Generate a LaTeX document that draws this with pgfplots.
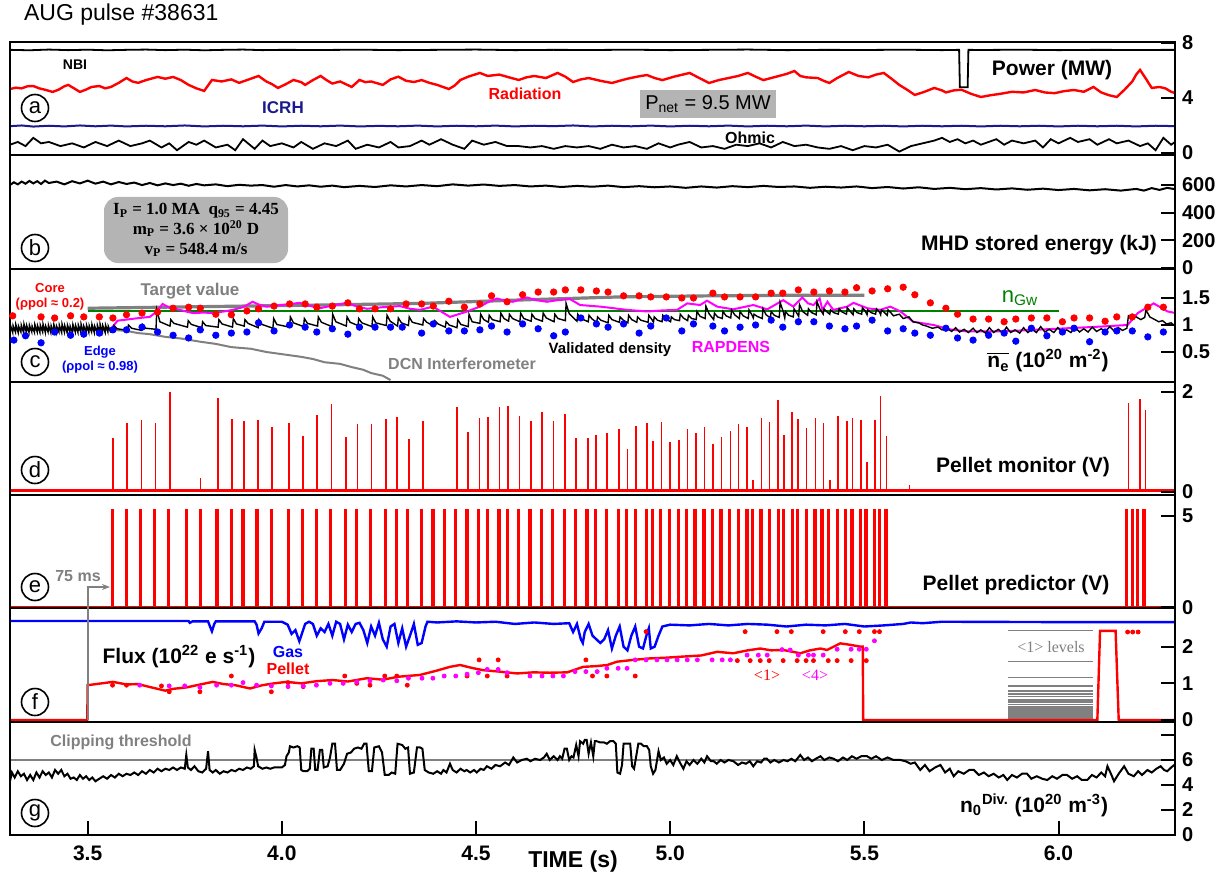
\documentclass[border=0pt]{standalone}
\usepackage{fontspec}
\setmainfont{Liberation Sans}
\newfontfamily\serif{Liberation Serif}
\usepackage{pgfplots}
\pgfplotsset{compat=1.18}
\usetikzlibrary{arrows.meta}
\definecolor{augred}{HTML}{FF0000}
\definecolor{augblue}{HTML}{0000FF}
\definecolor{icrh}{HTML}{1A1A8C}
\definecolor{augmag}{HTML}{FF00FF}
\definecolor{auggreen}{HTML}{008000}
\definecolor{auggrey}{HTML}{808080}
\definecolor{boxgrey}{HTML}{B4B4B4}
\newcommand\fs[1]{\fontsize{#1}{#1}\selectfont}

\pgfplotsset{
  panel/.style={scale only axis, width=582.5pt, height=56.64pt,
    xmin=3.3, xmax=6.3, xtick=\empty, anchor=south west,
    ytick pos=right, yticklabel pos=right, tick align=inside,
    major tick length=7pt, axis line style={line width=1pt},
    tick style={black, line width=1pt},
    yticklabel style={font=\fs{10}\bfseries}, axis on top},
}

\begin{document}
\begin{tikzpicture}
\path[use as bounding box] (0,0) rectangle (612pt,437.5pt);

% (a) power
\begin{axis}[panel, at={(5pt,359.85pt)}, ymin=-0.17, ymax=8.07,
  ytick={0,4,8}, yticklabels={0,4,8}]
\addplot[black, line width=0.9pt] coordinates {
 (3.30,7.50) (3.35,7.47) (3.40,7.52) (3.45,7.48) (3.50,7.51) (3.55,7.47) (3.60,7.50)
 (3.65,7.52) (3.70,7.48) (3.75,7.51) (3.80,7.47) (3.85,7.50) (3.90,7.52) (3.95,7.48)
 (4.00,7.50) (4.10,7.49) (4.20,7.51) (4.30,7.48) (4.40,7.50) (4.50,7.52) (4.60,7.48)
 (4.70,7.50) (4.80,7.49) (4.90,7.51) (5.00,7.48) (5.10,7.50) (5.20,7.52) (5.30,7.48)
 (5.40,7.50) (5.50,7.49) (5.60,7.51) (5.70,7.48) (5.744,7.50) (5.746,4.78) (5.766,4.78)
 (5.768,7.50) (5.80,7.49) (5.90,7.51) (6.00,7.48) (6.10,7.50) (6.20,7.49) (6.30,7.50)};
\addplot[augred, line width=1.2pt] coordinates {
 (3.300,4.65) (3.315,4.75) (3.330,4.70) (3.345,4.85) (3.360,4.87) (3.375,4.70) (3.390,4.60)
 (3.410,4.44) (3.425,4.60) (3.440,4.85) (3.450,4.95) (3.465,4.70) (3.480,4.44) (3.495,4.60)
 (3.510,4.80) (3.530,4.87) (3.545,4.70) (3.560,4.80) (3.580,5.10) (3.600,5.45) (3.615,5.20)
 (3.630,5.10) (3.650,5.30) (3.680,5.53) (3.700,5.40) (3.720,5.53) (3.740,5.30) (3.760,4.95)
 (3.780,4.70) (3.800,4.51) (3.820,5.31) (3.845,5.20) (3.870,5.35) (3.890,5.10) (3.905,5.25)
 (3.920,5.40) (3.940,5.60) (3.960,5.20) (3.975,5.00) (3.990,4.73) (4.010,5.00) (4.030,5.31)
 (4.050,5.15) (4.060,4.95) (4.080,5.30) (4.100,5.60) (4.115,5.30) (4.130,5.05) (4.150,5.20)
 (4.180,4.80) (4.200,5.31) (4.215,5.15) (4.230,5.20) (4.260,4.95) (4.280,5.35) (4.300,5.55)
 (4.320,5.25) (4.340,5.16) (4.360,5.30) (4.380,5.10) (4.400,4.95) (4.415,4.80) (4.430,4.65)
 (4.445,4.90) (4.460,5.31) (4.480,5.55) (4.510,5.82) (4.530,5.60) (4.560,5.70) (4.585,5.50)
 (4.610,5.31) (4.630,5.50) (4.650,5.60) (4.680,5.45) (4.710,5.82) (4.730,5.55) (4.750,5.16)
 (4.770,5.35) (4.790,5.45) (4.820,5.25) (4.850,5.09) (4.870,5.25) (4.890,5.40) (4.915,5.55)
 (4.940,5.67) (4.960,5.45) (4.980,5.30) (5.010,5.55) (5.050,5.82) (5.075,5.45) (5.100,5.09)
 (5.125,5.30) (5.150,5.45) (5.175,5.60) (5.200,5.82) (5.220,5.55) (5.240,5.30) (5.260,5.45)
 (5.280,5.60) (5.300,5.75) (5.320,5.96) (5.335,5.60) (5.350,5.50) (5.380,5.45) (5.395,5.25)
 (5.410,5.09) (5.430,5.45) (5.460,5.89) (5.485,5.60) (5.510,5.50) (5.530,5.70) (5.550,5.82)
 (5.570,5.40) (5.590,4.95) (5.610,4.60) (5.630,4.22) (5.655,4.45) (5.680,4.73) (5.700,4.55)
 (5.710,4.40) (5.730,4.55) (5.750,4.60) (5.775,4.30) (5.800,4.07) (5.825,4.20) (5.850,4.30)
 (5.880,4.45) (5.910,4.40) (5.940,4.58) (5.965,4.40) (5.990,4.35) (6.015,4.50) (6.040,4.58)
 (6.065,4.45) (6.090,4.80) (6.110,4.40) (6.130,4.20) (6.150,4.07) (6.170,4.60) (6.190,5.20)
 (6.200,5.70) (6.210,6.04) (6.225,5.40) (6.240,4.73) (6.260,4.80) (6.275,4.70) (6.290,4.45)
 (6.300,4.36)};
\addplot[icrh, line width=1pt] coordinates {
 (3.30,1.95) (3.33,2.00) (3.36,1.92) (3.40,1.98) (3.44,1.93) (3.48,2.00) (3.52,1.94)
 (3.56,1.99) (3.60,1.93) (3.65,1.98) (3.70,1.94) (3.75,2.00) (3.80,1.93) (3.85,1.98)
 (3.90,1.94) (3.95,1.99) (4.00,1.93) (4.05,1.98) (4.10,1.94) (4.15,1.99) (4.20,1.93)
 (4.25,1.97) (4.30,1.94) (4.35,1.99) (4.40,1.93) (4.45,1.98) (4.50,1.94) (4.55,1.99)
 (4.60,1.93) (4.65,1.98) (4.70,1.95) (4.75,2.00) (4.80,1.93) (4.85,1.98) (4.90,1.94)
 (4.95,1.99) (5.00,1.93) (5.05,1.98) (5.10,1.94) (5.15,1.99) (5.20,1.93) (5.25,1.98)
 (5.30,1.94) (5.35,1.99) (5.40,1.93) (5.45,1.98) (5.50,1.94) (5.55,1.98) (5.60,1.93)
 (5.65,1.98) (5.70,1.94) (5.75,1.98) (5.80,1.93) (5.85,1.98) (5.90,1.94) (5.95,1.98)
 (6.00,1.93) (6.05,1.98) (6.10,1.94) (6.15,1.98) (6.20,1.93) (6.25,1.98) (6.30,1.95)};
\addplot[black, line width=0.9pt] coordinates {
 (3.30,0.6) (3.32,0.8) (3.34,0.5) (3.36,1.1) (3.38,0.7) (3.40,0.8) (3.43,0.5) (3.46,0.7)
 (3.49,0.4) (3.52,0.8) (3.55,0.5) (3.58,0.9) (3.61,0.5) (3.64,0.7) (3.66,0.9) (3.69,0.4)
 (3.71,0.7) (3.73,0.2) (3.76,0.8) (3.78,0.6) (3.80,0.9) (3.83,0.4) (3.86,0.6) (3.88,0.2)
 (3.90,1.0) (3.93,0.3) (3.95,0.9) (3.97,0.5) (4.00,0.7) (4.03,0.4) (4.05,0.8) (4.08,0.3)
 (4.11,0.7) (4.14,0.5) (4.17,0.9) (4.19,0.3) (4.22,0.6) (4.25,0.4) (4.28,0.8) (4.30,0.4)
 (4.33,0.5) (4.36,0.9) (4.38,0.6) (4.41,1.0) (4.44,0.6) (4.47,0.3) (4.49,0.9) (4.52,0.6)
 (4.55,0.8) (4.58,0.5) (4.61,0.5) (4.64,0.4) (4.67,0.5) (4.70,0.3) (4.73,0.5) (4.76,0.4)
 (4.79,0.5) (4.82,0.3) (4.85,0.6) (4.88,0.4) (4.91,0.5) (4.94,0.3) (4.97,0.7) (5.00,0.4)
 (5.02,0.6) (5.05,0.8) (5.08,0.4) (5.11,0.5) (5.14,0.3) (5.17,0.6) (5.20,0.5) (5.23,0.7)
 (5.26,0.4) (5.29,0.8) (5.32,0.5) (5.35,0.6) (5.38,0.4) (5.41,0.3) (5.44,0.5) (5.47,0.2)
 (5.50,0.5) (5.53,0.4) (5.56,0.6) (5.59,0.1) (5.62,0.5) (5.65,0.7) (5.68,0.9) (5.70,1.1)
 (5.72,0.8) (5.74,1.0) (5.76,0.7) (5.78,0.9) (5.80,0.6) (5.82,0.8) (5.84,1.0) (5.86,0.6)
 (5.88,0.9) (5.91,0.7) (5.94,0.9) (5.96,0.4) (5.98,1.0) (6.00,0.7) (6.03,1.1) (6.05,0.8)
 (6.08,1.0) (6.10,0.6) (6.13,1.0) (6.15,0.7) (6.18,0.9) (6.21,0.5) (6.23,0.7) (6.25,0.2)
 (6.27,1.1) (6.29,0.6) (6.30,0.8)};
\end{axis}

% (b) stored energy
\begin{axis}[panel, at={(5pt,303.2pt)}, ymin=-4, ymax=815,
  ytick={0,200,400,600}, yticklabels={0,200,400,600}]
\addplot[black, line width=1pt] coordinates {
 (3.30,600) (3.31,620) (3.32,605) (3.33,625) (3.34,610) (3.35,630) (3.36,612) (3.37,628)
 (3.38,608) (3.39,632) (3.40,615) (3.42,625) (3.44,605) (3.46,628) (3.48,612) (3.50,632)
 (3.52,610) (3.54,625) (3.56,605) (3.58,622) (3.60,608) (3.62,618) (3.64,600) (3.66,615)
 (3.68,598) (3.70,612) (3.72,600) (3.74,610) (3.76,595) (3.78,608) (3.80,598) (3.83,605)
 (3.86,592) (3.89,602) (3.92,596) (3.95,600) (3.98,588) (4.01,600) (4.04,590) (4.07,598)
 (4.10,588) (4.13,596) (4.16,585) (4.20,594) (4.24,586) (4.28,598) (4.32,590) (4.36,600)
 (4.40,592) (4.44,605) (4.48,596) (4.52,604) (4.56,594) (4.60,600) (4.64,590) (4.68,596)
 (4.72,586) (4.76,594) (4.80,588) (4.84,596) (4.88,585) (4.92,592) (4.96,584) (5.00,590)
 (5.04,580) (5.08,590) (5.12,582) (5.16,592) (5.20,585) (5.24,594) (5.28,586) (5.32,590)
 (5.36,580) (5.40,588) (5.44,582) (5.48,590) (5.52,578) (5.56,586) (5.60,575) (5.64,584)
 (5.68,572) (5.72,580) (5.76,570) (5.80,578) (5.84,568) (5.88,576) (5.92,566) (5.96,574)
 (6.00,564) (6.04,572) (6.08,562) (6.12,570) (6.16,560) (6.20,572) (6.22,560) (6.24,578)
 (6.26,565) (6.28,580) (6.30,570)};
\end{axis}

% (c) density
\begin{axis}[panel, at={(5pt,246.55pt)}, ymin=-0.054, ymax=2.044,
  ytick={0.5,1,1.5}, yticklabels={0.5,1,1.5}]
\addplot[auggrey, line width=1.6pt] coordinates {
 (3.5,1.31) (3.8,1.34) (4.1,1.37) (4.36,1.40) (4.6,1.46) (4.87,1.52) (5.1,1.54) (5.3,1.55) (5.5,1.55)};
\addplot[auggreen, line width=1pt] coordinates {(3.5,1.26) (6.0,1.26)};
\addplot[auggrey, line width=1pt] coordinates {
 (3.30,0.90) (3.40,0.91) (3.50,0.91) (3.565,0.91) (3.60,0.89) (3.63,0.85) (3.66,0.83)
 (3.70,0.78) (3.74,0.75) (3.79,0.69) (3.83,0.65) (3.87,0.59) (3.92,0.56) (3.96,0.50)
 (4.00,0.46) (4.05,0.41) (4.08,0.37) (4.11,0.31) (4.15,0.28) (4.18,0.22) (4.21,0.17)
 (4.23,0.11) (4.26,0.06) (4.28,-0.02)};
\addplot[augmag, line width=1pt] coordinates {
 (3.30,0.92) (3.40,0.93) (3.50,0.92) (3.56,0.93) (3.577,1.08) (3.60,1.10) (3.634,1.13)
 (3.66,1.15) (3.678,1.25) (3.693,1.39) (3.71,1.32) (3.737,1.28) (3.771,1.22) (3.80,1.23)
 (3.822,1.22) (3.85,1.25) (3.874,1.28) (3.90,1.33) (3.925,1.43) (3.94,1.38) (3.961,1.34)
 (4.00,1.37) (4.046,1.41) (4.07,1.36) (4.098,1.31) (4.13,1.36) (4.168,1.41) (4.19,1.35)
 (4.219,1.30) (4.26,1.33) (4.304,1.35) (4.33,1.30) (4.356,1.28) (4.389,1.34) (4.41,1.25)
 (4.433,1.15) (4.455,1.20) (4.477,1.25) (4.510,1.34) (4.530,1.42) (4.554,1.49) (4.575,1.45)
 (4.595,1.43) (4.631,1.51) (4.655,1.46) (4.683,1.43) (4.710,1.46) (4.742,1.48) (4.768,1.37)
 (4.820,1.34) (4.855,1.31) (4.889,1.28) (4.941,1.25) (4.980,1.27) (5.018,1.28) (5.044,1.40)
 (5.077,1.37) (5.095,1.45) (5.121,1.34) (5.162,1.29) (5.214,1.37) (5.250,1.29) (5.291,1.46)
 (5.317,1.34) (5.340,1.51) (5.355,1.40) (5.369,1.37) (5.385,1.49) (5.392,1.28) (5.405,1.43)
 (5.420,1.28) (5.456,1.34) (5.472,1.41) (5.508,1.31) (5.541,1.28) (5.567,1.34) (5.593,1.25)
 (5.626,1.06) (5.678,1.00) (5.720,0.92) (5.765,0.88) (5.851,0.88) (5.936,0.91) (6.023,0.94)
 (6.108,0.97) (6.178,1.00) (6.204,1.22) (6.245,1.40) (6.281,1.25) (6.302,1.22)};
\addplot[black, line width=0.7pt] coordinates {
 (3.300,0.87) (3.301,1.00) (3.307,0.86) (3.308,0.99) (3.314,0.87) (3.315,1.01) (3.321,0.86)
 (3.322,0.98) (3.328,0.87) (3.329,1.00) (3.335,0.86) (3.336,1.02) (3.342,0.87) (3.343,0.99)
 (3.349,0.86) (3.350,1.00) (3.356,0.87) (3.357,0.98) (3.363,0.86) (3.364,1.01) (3.370,0.87)
 (3.371,0.99) (3.377,0.86) (3.378,1.00) (3.384,0.87) (3.385,1.02) (3.391,0.86) (3.392,0.98)
 (3.398,0.87) (3.399,1.00) (3.405,0.86) (3.406,0.99) (3.412,0.87) (3.413,1.01) (3.419,0.86)
 (3.420,0.98) (3.426,0.87) (3.427,1.00) (3.433,0.86) (3.434,1.02) (3.440,0.87) (3.441,0.99)
 (3.447,0.86) (3.448,1.00) (3.454,0.87) (3.455,0.98) (3.461,0.86) (3.462,1.01) (3.468,0.87)
 (3.469,0.99) (3.475,0.86) (3.476,1.00) (3.482,0.87) (3.483,1.02) (3.489,0.86) (3.490,0.98)
 (3.496,0.87) (3.497,1.00) (3.503,0.86) (3.504,0.99) (3.510,0.87) (3.511,1.01) (3.517,0.86)
 (3.518,0.98) (3.524,0.87) (3.525,1.00) (3.531,0.86) (3.532,1.02) (3.538,0.87) (3.539,0.99)
 (3.545,0.86) (3.546,1.00) (3.552,0.87) (3.553,0.98) (3.559,0.87)
 (3.566,0.89) (3.568,0.99) (3.576,0.93) (3.603,0.90) (3.605,1.00) (3.613,0.94)
 (3.639,0.90) (3.641,1.01) (3.649,0.94) (3.676,0.92) (3.678,1.28) (3.686,1.06)
 (3.712,0.98) (3.714,1.10) (3.722,1.03) (3.757,0.96) (3.759,1.08) (3.767,1.01)
 (3.794,0.95) (3.796,1.06) (3.804,0.99) (3.836,0.96) (3.838,1.10) (3.846,1.02)
 (3.873,0.96) (3.875,1.12) (3.883,1.02) (3.903,0.98) (3.905,1.10) (3.913,1.03)
 (3.939,0.95) (3.941,1.10) (3.949,1.01) (3.977,0.94) (3.979,1.12) (3.987,1.01)
 (4.020,0.96) (4.022,1.15) (4.030,1.04) (4.056,0.97) (4.058,1.12) (4.066,1.03)
 (4.092,0.98) (4.094,1.15) (4.102,1.05) (4.129,0.97) (4.131,1.20) (4.139,1.06)
 (4.166,0.98) (4.168,1.15) (4.176,1.05) (4.196,0.99) (4.198,1.12) (4.206,1.04)
 (4.232,0.97) (4.234,1.15) (4.242,1.04) (4.269,0.99) (4.271,1.18) (4.279,1.07)
 (4.298,0.98) (4.300,1.13) (4.308,1.04) (4.326,0.99) (4.328,1.15) (4.336,1.05)
 (4.363,1.00) (4.365,1.12) (4.373,1.05) (4.392,0.98) (4.394,1.08) (4.402,1.02)
 (4.421,0.96) (4.423,1.06) (4.431,1.00) (4.451,0.95) (4.453,1.10) (4.461,1.01)
 (4.480,0.97) (4.482,1.20) (4.490,1.06) (4.510,1.03) (4.512,1.20) (4.520,1.10)
 (4.532,1.05) (4.534,1.18) (4.542,1.10) (4.562,1.06) (4.564,1.22) (4.572,1.12)
 (4.584,1.07) (4.586,1.20) (4.594,1.12) (4.613,1.06) (4.615,1.22) (4.623,1.12)
 (4.642,1.07) (4.644,1.20) (4.652,1.12) (4.671,1.07) (4.673,1.22) (4.681,1.13)
 (4.701,1.06) (4.703,1.20) (4.711,1.12) (4.730,1.08) (4.732,1.40) (4.740,1.21)
 (4.760,1.07) (4.762,1.20) (4.770,1.12) (4.789,1.06) (4.791,1.18) (4.799,1.11)
 (4.811,1.05) (4.813,1.15) (4.821,1.09) (4.840,1.04) (4.842,1.18) (4.850,1.10)
 (4.869,1.05) (4.871,1.15) (4.879,1.09) (4.891,1.04) (4.893,1.18) (4.901,1.10)
 (4.914,1.05) (4.916,1.15) (4.924,1.09) (4.943,1.05) (4.945,1.18) (4.953,1.10)
 (4.957,1.05) (4.959,1.15) (4.967,1.09) (4.979,1.06) (4.981,1.18) (4.989,1.11)
 (5.001,1.06) (5.003,1.15) (5.011,1.10) (5.024,1.08) (5.026,1.20) (5.034,1.13)
 (5.045,1.08) (5.047,1.18) (5.055,1.12) (5.067,1.10) (5.069,1.25) (5.077,1.16)
 (5.090,1.12) (5.092,1.35) (5.100,1.21) (5.112,1.10) (5.114,1.22) (5.122,1.15)
 (5.134,1.12) (5.136,1.25) (5.144,1.17) (5.156,1.13) (5.158,1.28) (5.166,1.19)
 (5.178,1.12) (5.180,1.25) (5.188,1.17) (5.201,1.12) (5.203,1.28) (5.211,1.18)
 (5.214,1.13) (5.216,1.20) (5.224,1.16) (5.237,1.12) (5.239,1.30) (5.247,1.19)
 (5.258,1.13) (5.260,1.25) (5.268,1.18) (5.281,1.14) (5.283,1.42) (5.291,1.25)
 (5.295,1.13) (5.297,1.25) (5.305,1.18) (5.317,1.15) (5.319,1.30) (5.327,1.21)
 (5.331,1.16) (5.333,1.38) (5.341,1.25) (5.354,1.18) (5.356,1.30) (5.364,1.23)
 (5.376,1.19) (5.378,1.43) (5.386,1.29) (5.394,1.20) (5.396,1.30) (5.404,1.24)
 (5.411,1.20) (5.413,1.28) (5.421,1.23) (5.433,1.20) (5.435,1.30) (5.443,1.24)
 (5.454,1.20) (5.456,1.32) (5.464,1.25) (5.471,1.19) (5.473,1.30) (5.481,1.23)
 (5.493,1.20) (5.495,1.32) (5.503,1.25) (5.507,1.19) (5.509,1.28) (5.517,1.23)
 (5.529,1.20) (5.531,1.30) (5.539,1.24) (5.542,1.19) (5.544,1.28) (5.552,1.23)
 (5.559,1.18) (5.561,1.28) (5.569,1.22)
 (5.575,1.17) (5.590,1.20) (5.600,1.12) (5.615,1.15) (5.625,1.06) (5.640,1.04) (5.650,1.00)
 (5.660,0.98) (5.675,0.94) (5.690,0.96) (5.700,0.91) (5.715,0.93) (5.725,0.88) (5.735,0.95)
 (5.745,0.87) (5.757,0.92) (5.768,0.86) (5.780,0.94) (5.790,0.86) (5.800,0.91) (5.812,0.85)
 (5.822,0.95) (5.833,0.86) (5.845,0.92) (5.856,0.85) (5.866,0.96) (5.877,0.86) (5.888,0.91)
 (5.900,0.85) (5.910,0.95) (5.921,0.86) (5.932,0.92) (5.943,0.86) (5.954,0.97) (5.965,0.87)
 (5.976,0.92) (5.988,0.86) (5.998,0.95) (6.010,0.87) (6.021,0.91) (6.032,0.86) (6.043,0.96)
 (6.054,0.87) (6.065,0.93) (6.076,0.87) (6.087,0.96) (6.098,0.88) (6.110,0.93) (6.121,0.88)
 (6.132,0.97) (6.143,0.89) (6.154,0.95) (6.165,0.90) (6.176,0.94) (6.180,1.17) (6.190,1.12)
 (6.200,1.15) (6.212,1.10) (6.222,1.14) (6.225,1.28) (6.235,1.15) (6.248,1.10) (6.258,1.06)
 (6.268,1.08) (6.278,1.02) (6.290,1.04) (6.300,0.98)};
\addplot[only marks, mark=*, mark size=1.6pt, augred] coordinates {
 (3.307,1.17) (3.38,1.15) (3.415,1.13) (3.456,1.17) (3.49,1.15) (3.53,1.15) (3.565,1.13)
 (3.60,1.19) (3.64,1.22) (3.68,1.24) (3.72,1.31) (3.76,1.33) (3.79,1.31) (3.83,1.20)
 (3.87,1.19) (3.91,1.26) (3.94,1.30) (3.98,1.35) (4.02,1.39) (4.06,1.39) (4.09,1.33)
 (4.13,1.35) (4.17,1.41) (4.20,1.30) (4.24,1.30) (4.28,1.30) (4.32,1.39) (4.36,1.39)
 (4.39,1.35) (4.43,1.44) (4.47,1.33) (4.51,1.39) (4.54,1.54) (4.58,1.43) (4.62,1.56)
 (4.66,1.61) (4.70,1.61) (4.73,1.65) (4.77,1.65) (4.81,1.63) (4.84,1.61) (4.88,1.54)
 (4.92,1.54) (4.95,1.52) (4.99,1.52) (5.03,1.50) (5.06,1.50) (5.11,1.59) (5.14,1.52)
 (5.18,1.52) (5.22,1.52) (5.26,1.59) (5.29,1.59) (5.33,1.65) (5.37,1.61) (5.41,1.63)
 (5.45,1.61) (5.48,1.69) (5.52,1.63) (5.56,1.67) (5.60,1.70) (5.63,1.56) (5.67,1.41)
 (5.71,1.31) (5.74,1.20) (5.78,1.11) (5.82,1.11) (5.86,1.06) (5.89,1.11) (5.93,1.13)
 (5.97,1.13) (6.01,1.06) (6.04,1.13) (6.08,1.13) (6.12,1.07) (6.15,1.15) (6.19,1.15)
 (6.23,1.33) (6.27,1.33)};
\addplot[only marks, mark=*, mark size=1.6pt, augblue] coordinates {
 (3.31,0.72) (3.34,0.80) (3.38,0.67) (3.415,0.87) (3.456,0.81) (3.49,0.83) (3.53,0.85)
 (3.565,0.91) (3.60,0.91) (3.64,0.96) (3.68,0.87) (3.72,0.81) (3.76,0.76) (3.79,0.91)
 (3.83,0.81) (3.87,0.85) (3.91,0.87) (3.94,1.04) (3.98,0.89) (4.02,1.00) (4.06,0.96)
 (4.09,0.87) (4.13,0.93) (4.17,0.83) (4.20,0.96) (4.24,0.96) (4.28,0.96) (4.31,0.96)
 (4.36,0.85) (4.39,1.02) (4.43,0.89) (4.47,0.89) (4.51,0.91) (4.54,0.98) (4.58,0.87)
 (4.62,1.02) (4.66,0.93) (4.70,0.80) (4.73,0.87) (4.77,1.13) (4.81,1.02) (4.84,0.96)
 (4.88,1.02) (4.92,0.85) (4.95,0.98) (4.99,1.13) (5.03,0.89) (5.06,1.02) (5.11,0.98)
 (5.14,0.89) (5.18,0.96) (5.22,1.00) (5.26,1.09) (5.29,0.96) (5.33,1.06) (5.37,1.06)
 (5.41,0.98) (5.45,0.93) (5.48,0.98) (5.52,1.09) (5.56,0.89) (5.60,0.93) (5.63,0.85)
 (5.67,0.81) (5.71,0.94) (5.74,0.76) (5.78,0.72) (5.82,0.81) (5.86,0.85) (5.89,0.70)
 (5.93,0.94) (5.97,0.80) (6.01,0.87) (6.04,0.94) (6.08,0.69) (6.12,0.87) (6.15,0.89)
 (6.19,0.89) (6.23,0.78) (6.27,0.87)};
\end{axis}

% (d) pellet monitor
\begin{axis}[panel, at={(5pt,189.95pt)}, ymin=-0.072, ymax=2.203,
  ytick={0,2}, yticklabels={0,2}]
\addplot[augred, line width=1.3pt] coordinates {(3.3,0.015) (6.3,0.015)};
\addplot[augred, line width=0.8pt, ycomb] coordinates {
 (3.565,1.07) (3.602,1.37) (3.639,1.44) (3.675,1.37) (3.712,1.99) (3.791,0.28) (3.836,1.87)
 (3.872,1.45) (3.902,1.42) (3.938,1.44) (3.974,1.30) (4.019,1.38) (4.055,1.12) (4.091,1.53)
 (4.128,1.75) (4.165,1.09) (4.195,1.36) (4.231,1.36) (4.268,1.45) (4.297,1.49) (4.327,1.05)
 (4.363,1.42) (4.451,1.69) (4.480,1.20) (4.509,1.47) (4.531,1.49) (4.560,1.70) (4.582,1.72)
 (4.612,1.52) (4.641,1.42) (4.670,1.60) (4.700,1.41) (4.729,1.56) (4.758,1.07) (4.788,1.07)
 (4.809,1.13) (4.838,1.18) (4.868,1.25) (4.890,0.85) (4.912,1.32) (4.941,1.37) (4.956,1.01)
 (4.978,1.39) (5.000,0.99) (5.022,1.04) (5.045,1.25) (5.066,1.17) (5.088,1.30) (5.111,0.95)
 (5.132,1.10) (5.155,1.22) (5.176,1.36) (5.198,1.30) (5.213,0.23) (5.235,1.48) (5.256,1.39)
 (5.278,1.83) (5.293,1.14) (5.314,1.60) (5.329,1.46) (5.351,1.27) (5.374,1.48) (5.395,1.37)
 (5.411,0.24) (5.432,1.52) (5.455,1.42) (5.470,1.47) (5.491,1.44) (5.507,0.60) (5.528,1.44)
 (5.542,1.92) (5.557,1.12) (5.616,0.13) (6.180,1.77) (6.210,1.86) (6.224,1.64)};
\end{axis}

% (e) pellet predictor
\begin{axis}[panel, at={(5pt,133.3pt)}, ymin=-0.06, ymax=6.12,
  ytick={0,5}, yticklabels={0,5}]
\addplot[augred, line width=1.5pt] coordinates {(3.3,0) (6.3,0)};
\addplot[augred, line width=1.6pt, ycomb] coordinates {
 (3.563,5.35) (3.600,5.35) (3.636,5.35) (3.673,5.35) (3.709,5.35) (3.754,5.35) (3.791,5.35)
 (3.833,5.35) (3.870,5.35) (3.900,5.35) (3.936,5.35) (3.974,5.35) (4.017,5.35) (4.053,5.35)
 (4.089,5.35) (4.126,5.35) (4.163,5.35) (4.193,5.35) (4.229,5.35) (4.266,5.35) (4.295,5.35)
 (4.323,5.35) (4.360,5.35) (4.389,5.35) (4.418,5.35) (4.448,5.35) (4.477,5.35) (4.507,5.35)
 (4.529,5.35) (4.559,5.35) (4.581,5.35) (4.610,5.35) (4.639,5.35) (4.668,5.35) (4.698,5.35)
 (4.727,5.35) (4.757,5.35) (4.786,5.35) (4.808,5.35) (4.837,5.35) (4.866,5.35) (4.888,5.35)
 (4.911,5.35) (4.940,5.35) (4.954,5.35) (4.976,5.35) (4.998,5.35) (5.021,5.35) (5.042,5.35)
 (5.064,5.35) (5.087,5.35) (5.109,5.35) (5.131,5.35) (5.153,5.35) (5.175,5.35) (5.198,5.35)
 (5.211,5.35) (5.234,5.35) (5.255,5.35) (5.278,5.35) (5.292,5.35) (5.314,5.35) (5.328,5.35)
 (5.351,5.35) (5.373,5.35) (5.391,5.35) (5.408,5.35) (5.430,5.35) (5.451,5.35) (5.468,5.35)
 (5.490,5.35) (5.504,5.35) (5.526,5.35) (5.539,5.35) (5.556,5.35) (6.175,5.35) (6.190,5.35)
 (6.204,5.35) (6.220,5.35)};
\end{axis}

% (f) fluxes
\begin{axis}[panel, at={(5pt,76.65pt)}, ymin=-0.046, ymax=3.043,
  ytick={0,1,2}, yticklabels={0,1,2}]
\addplot[draw=none, fill=auggrey] coordinates {(5.871,0.38) (6.090,0.38)} \closedcycle;
\addplot[auggrey, line width=0.6pt] coordinates {(5.871,2.44) (6.090,2.44)};
\addplot[auggrey, line width=0.6pt] coordinates {(5.871,1.59) (6.090,1.59)};
\addplot[auggrey, line width=0.6pt] coordinates {(5.871,1.16) (6.090,1.16)};
\addplot[auggrey, line width=0.6pt] coordinates {(5.871,0.93) (6.090,0.93)};
\addplot[auggrey, line width=0.6pt] coordinates {(5.871,0.79) (6.090,0.79)};
\addplot[auggrey, line width=0.6pt] coordinates {(5.871,0.71) (6.090,0.71)};
\addplot[auggrey, line width=0.6pt] coordinates {(5.871,0.64) (6.090,0.64)};
\addplot[auggrey, line width=0.6pt] coordinates {(5.871,0.57) (6.090,0.57)};
\addplot[auggrey, line width=0.6pt] coordinates {(5.871,0.52) (6.090,0.52)};
\addplot[auggrey, line width=0.6pt] coordinates {(5.871,0.47) (6.090,0.47)};
\addplot[auggrey, line width=0.6pt] coordinates {(5.871,0.43) (6.090,0.43)};
\addplot[augblue, line width=1.2pt] coordinates {
 (3.30,2.70) (3.45,2.70) (3.60,2.70) (3.76,2.70) (3.763,2.65) (3.77,2.69) (3.81,2.69)
 (3.814,2.58) (3.82,2.42) (3.826,2.62) (3.83,2.69) (3.93,2.69) (3.935,2.60) (3.94,2.36)
 (3.948,2.50) (3.955,2.68) (4.00,2.68) (4.015,2.60) (4.025,2.35) (4.035,2.45) (4.045,2.15)
 (4.05,2.30) (4.06,2.62) (4.07,2.68) (4.08,2.62) (4.09,2.30) (4.10,2.50) (4.11,2.40)
 (4.12,2.62) (4.13,2.30) (4.14,2.68) (4.15,2.62) (4.16,2.20) (4.17,2.60) (4.18,2.40)
 (4.19,2.62) (4.20,2.65) (4.21,2.45) (4.22,2.10) (4.23,2.55) (4.24,2.30) (4.25,2.65)
 (4.26,2.20) (4.27,2.00) (4.28,2.55) (4.29,2.62) (4.30,2.10) (4.31,2.50) (4.32,2.00)
 (4.33,2.30) (4.34,2.62) (4.35,2.05) (4.36,2.10) (4.37,2.55) (4.375,2.68) (4.40,2.66)
 (4.45,2.69) (4.50,2.66) (4.55,2.68) (4.60,2.62) (4.65,2.66) (4.70,2.62) (4.74,2.64)
 (4.75,2.40) (4.76,2.62) (4.77,2.20) (4.775,2.10) (4.78,2.40) (4.79,2.62) (4.80,2.30)
 (4.81,2.20) (4.82,2.10) (4.83,2.20) (4.84,2.45) (4.85,1.95) (4.86,2.30) (4.87,2.55)
 (4.88,2.00) (4.89,1.90) (4.90,2.30) (4.91,2.55) (4.92,2.00) (4.93,1.95) (4.94,2.35)
 (4.945,2.50) (4.95,1.95) (4.96,2.00) (4.97,2.30) (4.98,2.55) (5.00,2.60) (5.05,2.58)
 (5.10,2.62) (5.15,2.58) (5.20,2.62) (5.25,2.60) (5.30,2.55) (5.35,2.60) (5.40,2.58)
 (5.45,2.62) (5.50,2.55) (5.55,2.58) (5.60,2.62) (5.62,2.66) (5.65,2.64) (5.70,2.68)
 (6.00,2.67) (6.30,2.67)};
\addplot[augred, line width=1.2pt] coordinates {
 (3.30,0) (3.499,0) (3.500,0.95) (3.565,1.04) (3.60,0.97) (3.63,0.98) (3.66,0.90) (3.70,0.80)
 (3.72,0.85) (3.755,0.89) (3.79,0.97) (3.822,1.04) (3.85,0.98) (3.88,0.95) (3.918,0.86)
 (3.95,0.95) (3.98,1.00) (4.012,1.04) (4.05,1.00) (4.09,1.06) (4.131,1.09) (4.17,1.05)
 (4.219,1.14) (4.26,1.10) (4.30,1.18) (4.356,1.23) (4.40,1.35) (4.433,1.45) (4.459,1.50)
 (4.49,1.42) (4.518,1.36) (4.56,1.32) (4.606,1.27) (4.647,1.30) (4.69,1.29) (4.735,1.30)
 (4.776,1.45) (4.81,1.47) (4.838,1.50) (4.863,1.59) (4.905,1.64) (4.948,1.68) (4.99,1.70)
 (5.033,1.73) (5.08,1.76) (5.121,1.86) (5.162,1.82) (5.20,1.90) (5.232,1.95) (5.26,1.90)
 (5.291,1.91) (5.335,1.82) (5.36,1.90) (5.387,1.95) (5.404,1.91) (5.438,2.09) (5.464,2.05)
 (5.49,2.00) (5.496,2.00) (5.497,0) (6.100,0) (6.107,2.43) (6.147,2.43) (6.155,0) (6.30,0)};
\addplot[only marks, mark=*, mark size=1pt, augred] coordinates {
 (3.564,0.95) (3.600,0.95) (3.690,0.93) (3.710,0.77) (3.789,0.77) (3.870,1.20) (3.973,0.77)
 (4.016,1.02) (4.055,0.91) (4.162,1.20) (4.193,1.00) (4.227,0.95) (4.265,1.20) (4.296,1.20)
 (4.323,0.95) (4.477,1.20) (4.508,1.64) (4.529,1.20) (4.557,1.64) (4.580,1.20) (4.783,1.64)
 (4.800,1.20) (4.837,1.20) (4.910,1.20) (4.938,2.41) (5.173,1.62) (5.193,2.41) (5.206,1.62)
 (5.232,1.62) (5.255,1.62) (5.275,2.41) (5.291,1.62) (5.312,2.41) (5.327,1.62) (5.350,1.62)
 (5.369,1.62) (5.394,2.41) (5.407,1.62) (5.430,1.62) (5.451,2.41) (5.466,1.62) (5.487,2.41)
 (5.505,1.62) (5.526,2.41) (5.539,2.41) (6.178,2.40) (6.191,2.40) (6.205,2.40)};
\addplot[only marks, mark=*, mark size=1pt, augmag] coordinates {
 (3.634,0.95) (3.710,0.93) (3.750,0.93) (3.789,0.89) (3.832,0.95) (3.870,0.95) (3.900,1.02)
 (3.935,0.95) (3.973,0.93) (4.016,0.91) (4.055,0.93) (4.089,0.95) (4.124,1.00) (4.158,1.00)
 (4.193,1.04) (4.227,1.07) (4.261,1.09) (4.296,1.07) (4.326,1.14) (4.361,1.14) (4.389,1.14)
 (4.418,1.20) (4.448,1.20) (4.477,1.25) (4.506,1.29) (4.529,1.38) (4.557,1.38) (4.580,1.29)
 (4.639,1.20) (4.670,1.20) (4.698,1.20) (4.725,1.20) (4.755,1.32) (4.783,1.32) (4.812,1.32)
 (4.837,1.41) (4.866,1.41) (4.889,1.41) (4.910,1.64) (4.938,1.64) (4.966,1.64) (4.992,1.64)
 (5.018,1.64) (5.044,1.64) (5.070,1.64) (5.108,1.64) (5.134,1.64) (5.155,1.64) (5.198,1.77)
 (5.227,1.77) (5.250,1.77) (5.288,1.92) (5.309,1.91) (5.330,1.77) (5.356,1.77) (5.369,1.77)
 (5.394,1.77) (5.430,1.93) (5.466,1.93) (5.487,1.93) (5.505,1.93) (5.526,2.16)};
\end{axis}

% (g) divertor neutral density
\begin{axis}[panel, at={(5pt,20pt)}, ymin=0, ymax=9.06,
  ytick={0,2,4,6,8}, yticklabels={0,2,4,6,},
  xtick={3.5,4,4.5,5,5.5,6}, xticklabels={3.5,4.0,4.5,5.0,5.5,6.0},
  xtick pos=bottom, xticklabel style={font=\fs{10.5}\bfseries, yshift=-2pt}]
\addplot[auggrey, line width=1.2pt] coordinates {(3.3,6.0) (6.3,6.0)};
\addplot[black, line width=1pt] coordinates {
 (3.300,4.3) (3.305,5.0) (3.312,4.6) (3.320,5.1) (3.328,4.7) (3.336,4.9) (3.344,4.4) (3.352,4.8)
 (3.360,4.4) (3.368,5.0) (3.376,4.6) (3.384,5.1) (3.392,4.8) (3.400,5.0) (3.408,4.6) (3.416,5.2)
 (3.424,4.9) (3.432,5.2) (3.440,4.7) (3.448,4.9) (3.456,4.5) (3.464,4.6) (3.472,4.4) (3.480,4.8)
 (3.488,4.5) (3.496,4.7) (3.504,4.4) (3.512,4.6) (3.520,4.3) (3.530,4.5) (3.540,4.7) (3.550,4.5)
 (3.560,4.8) (3.570,4.6) (3.580,4.9) (3.590,4.7) (3.600,4.9) (3.610,4.8) (3.620,5.0) (3.630,4.8)
 (3.640,5.1) (3.650,4.9) (3.660,5.2) (3.670,5.0) (3.680,5.3) (3.690,5.1) (3.700,5.3) (3.710,5.2)
 (3.720,5.4) (3.730,5.2) (3.740,5.4) (3.750,5.3) (3.754,6.4) (3.758,5.4) (3.766,5.2) (3.775,5.5)
 (3.785,5.1) (3.795,5.0) (3.805,5.3) (3.810,6.7) (3.814,5.2) (3.822,5.0) (3.830,5.2) (3.840,4.9)
 (3.850,5.1) (3.860,5.0) (3.870,5.2) (3.880,5.1) (3.890,5.3) (3.900,5.2) (3.910,5.4) (3.920,5.3)
 (3.928,5.5) (3.930,6.8) (3.934,6.3) (3.939,5.5) (3.950,5.3) (3.960,5.4) (3.970,5.3) (3.980,5.4)
 (3.990,5.4) (4.000,5.4) (4.008,5.6) (4.012,6.3) (4.018,6.6) (4.021,7.1) (4.030,7.0) (4.040,7.1)
 (4.046,7.0) (4.050,5.2) (4.056,5.1) (4.065,5.1) (4.072,5.3) (4.076,6.9) (4.082,6.9) (4.086,5.2)
 (4.092,5.2) (4.098,6.8) (4.104,6.8) (4.108,5.4) (4.118,5.5) (4.124,6.2) (4.130,7.3) (4.137,7.3)
 (4.142,5.2) (4.150,5.2) (4.160,5.7) (4.168,6.5) (4.178,6.6) (4.186,6.9) (4.196,7.0) (4.205,6.9)
 (4.212,7.3) (4.218,7.3) (4.224,5.1) (4.232,5.1) (4.238,7.0) (4.250,7.1) (4.258,6.6) (4.265,4.8)
 (4.275,4.8) (4.283,5.0) (4.292,4.9) (4.298,7.3) (4.310,7.2) (4.318,6.9) (4.325,7.0) (4.330,4.9)
 (4.340,5.0) (4.348,7.0) (4.356,7.0) (4.362,6.9) (4.368,5.2) (4.378,5.0) (4.390,4.9) (4.400,5.1)
 (4.410,4.9) (4.416,5.2) (4.424,5.0) (4.433,5.7) (4.440,5.2) (4.450,5.0) (4.460,5.3) (4.470,5.1)
 (4.476,5.2) (4.485,5.0) (4.495,5.2) (4.502,5.0) (4.512,5.3) (4.520,5.2) (4.528,5.5) (4.540,5.3)
 (4.550,5.6) (4.562,5.5) (4.575,5.8) (4.585,5.6) (4.596,6.2) (4.606,5.8) (4.618,6.0) (4.631,6.1)
 (4.640,5.9) (4.652,6.1) (4.665,6.0) (4.675,6.2) (4.682,6.5) (4.690,6.0) (4.700,6.3) (4.710,6.0)
 (4.716,6.3) (4.722,6.1) (4.728,6.9) (4.734,6.9) (4.740,6.0) (4.746,6.3) (4.751,6.2) (4.758,7.2)
 (4.764,6.3) (4.768,7.5) (4.776,7.3) (4.780,7.6) (4.785,7.6) (4.790,6.5) (4.796,7.4) (4.802,6.3)
 (4.806,7.5) (4.811,7.5) (4.820,7.4) (4.830,7.4) (4.837,7.3) (4.845,7.5) (4.854,7.5) (4.860,7.3)
 (4.864,5.0) (4.871,4.9) (4.876,5.6) (4.880,7.3) (4.890,7.3) (4.897,7.3) (4.902,5.5) (4.907,5.3)
 (4.912,6.2) (4.918,7.3) (4.925,7.3) (4.932,7.1) (4.940,7.1) (4.946,6.8) (4.950,5.5) (4.956,4.9)
 (4.962,5.2) (4.970,6.7) (4.976,6.0) (4.984,6.2) (4.991,5.7) (5.000,6.0) (5.008,5.6) (5.017,6.3)
 (5.025,5.8) (5.034,5.3) (5.042,5.9) (5.050,5.6) (5.060,6.0) (5.070,5.7) (5.080,6.1) (5.088,5.8)
 (5.095,6.3) (5.105,5.9) (5.112,5.9) (5.120,5.7) (5.130,6.0) (5.140,5.8) (5.150,6.0) (5.163,5.9)
 (5.175,5.6) (5.185,5.8) (5.195,5.7) (5.205,5.9) (5.214,5.5) (5.224,5.9) (5.234,5.8) (5.242,6.1)
 (5.249,6.1) (5.258,5.8) (5.268,6.0) (5.280,5.8) (5.292,6.0) (5.302,5.9) (5.312,6.1) (5.322,5.9)
 (5.335,6.4) (5.345,6.0) (5.355,6.2) (5.365,5.9) (5.375,6.1) (5.387,6.3) (5.397,6.0) (5.410,6.2)
 (5.421,6.1) (5.432,5.9) (5.445,6.2) (5.456,6.0) (5.468,6.3) (5.480,6.1) (5.492,6.3) (5.507,6.3)
 (5.518,6.1) (5.530,6.3) (5.545,6.0) (5.560,6.2) (5.575,6.0) (5.593,6.0) (5.606,5.9) (5.619,5.7)
 (5.630,5.8) (5.644,5.2) (5.656,5.6) (5.668,5.1) (5.682,5.4) (5.696,5.6) (5.708,5.0) (5.720,5.3)
 (5.730,4.7) (5.742,5.1) (5.756,4.9) (5.770,5.2) (5.782,5.2) (5.795,4.8) (5.808,5.0) (5.820,4.7)
 (5.833,4.9) (5.846,4.6) (5.858,4.8) (5.868,4.4) (5.880,4.8) (5.893,4.6) (5.906,4.9) (5.919,4.9)
 (5.930,4.5) (5.944,4.7) (5.958,4.5) (5.971,4.4) (5.984,4.7) (5.996,4.5) (6.010,4.8) (6.022,4.8)
 (6.035,4.5) (6.048,4.7) (6.060,4.4) (6.074,4.4) (6.086,4.8) (6.098,4.6) (6.110,5.0) (6.120,4.7)
 (6.126,5.5) (6.135,4.9) (6.143,4.3) (6.155,4.9) (6.169,5.5) (6.180,4.9) (6.194,4.7) (6.205,5.1)
 (6.215,4.8) (6.229,5.2) (6.240,5.0) (6.252,5.3) (6.263,5.5) (6.272,5.2) (6.280,5.1) (6.290,5.4)
 (6.302,5.7)};
\end{axis}

% annotations, placed in image pixel units
\begin{scope}[x=0.5pt, y=-0.5pt, yshift=437.5pt,
  circ/.style={circle, draw, line width=0.8pt, inner sep=0pt, minimum size=13.5pt, font=\fs{11}}]
\node[anchor=west, font=\fs{11.5}] at (17,15) {AUG pulse \#38631};
% a
\node[font=\fs{7}\bfseries] at (75,65) {NBI};
\node[font=\fs{8}\bfseries, text=augred] at (525,94) {Radiation};
\node[font=\fs{8.5}\bfseries, text=icrh] at (283,108) {ICRH};
\node[font=\fs{8}\bfseries] at (750,138) {Ohmic};
\node[fill=boxgrey, minimum width=68pt, minimum height=14pt, inner sep=1pt, font=\fs{10}] at (708,104) {P\textsubscript{net} = 9.5 MW};
\node[font=\fs{10.5}\bfseries] at (1052,70) {Power (MW)};
\node[circ] at (35,108) {a};
% b
\node[fill=boxgrey, rounded corners=7pt, minimum width=92pt, minimum height=32pt, align=center,
  font=\serif\bfseries\fontsize{8.5}{9.8}\selectfont] at (196,230)
  {I\textsubscript{P} = 1.0 MA\enspace q\textsubscript{95} = 4.45\\m\textsubscript{P} = 3.6 × 10\textsuperscript{20} D\\v\textsubscript{P} = 548.4 m/s};
\node[font=\fs{10.5}\bfseries] at (1039,245) {MHD stored energy (kJ)};
\node[circ] at (35,248) {b};
% c
\node[font=\fs{6.5}\bfseries, text=augred] at (50,288) {Core};
\node[font=\fs{6.5}\bfseries, text=augred] at (50,304) {(ρpol ≈ 0.2)};
\node[font=\fs{8.5}\bfseries, text=auggrey] at (190,291) {Target value};
\node[font=\fs{6.5}\bfseries, text=augblue] at (100,352) {Edge};
\node[font=\fs{6.5}\bfseries, text=augblue] at (100,367) {(ρpol ≈ 0.98)};
\node[font=\fs{8}\bfseries, text=auggrey] at (462,364) {DCN Interferometer};
\node[font=\fs{7.5}\bfseries] at (610,350) {Validated density};
\node[font=\fs{8}\bfseries, text=augmag] at (731,347) {RAPDENS};
\node[font=\fs{11}, text=auggreen] at (1020,298) {n\textsubscript{Gw}};
\node[font=\fs{10.5}\bfseries] at (1048,361) {$\overline{\mbox{n\textsubscript{e}}}$ (10\textsuperscript{20} m\textsuperscript{-2})};
\node[circ] at (35,362) {c};
% d
\node[font=\fs{10.5}\bfseries] at (1023,467) {Pellet monitor (V)};
\node[circ] at (35,470) {d};
% e
\node[font=\fs{10.5}\bfseries] at (1016,585) {Pellet predictor (V)};
\node[circ] at (35,587) {e};
\node[font=\fs{8}\bfseries, text=auggrey] at (78,576) {75 ms};
\draw[auggrey, line width=0.8pt, -{Stealth[length=4pt]}] (88,720) -- (88,587) -- (110,587);
% f
\node[font=\fs{10.5}\bfseries] at (179,657) {Flux (10\textsuperscript{22} e s\textsuperscript{-1})};
\node[font=\fs{8}\bfseries, text=augblue] at (288,652) {Gas};
\node[font=\fs{8}\bfseries, text=augred] at (288,669) {Pellet};
\node[font=\serif\fs{8}, text=augred] at (767,675) {<1>};
\node[font=\serif\fs{8}, text=augmag] at (815,675) {<4>};
\node[font=\serif\fs{8}, text=auggrey] at (1051,647) {<1> levels};
\node[circ] at (35,702) {f};
% g
\node[font=\fs{8}\bfseries, text=auggrey] at (121,742) {Clipping threshold};
\node[font=\fs{10.5}\bfseries] at (1034,805) {n\textsubscript{0}\textsuperscript{Div.} (10\textsuperscript{20} m\textsuperscript{-3})};
\node[circ] at (35,813) {g};
\node[font=\fs{11.5}\bfseries] at (573,862) {TIME (s)};
\end{scope}
\end{tikzpicture}
\end{document}
